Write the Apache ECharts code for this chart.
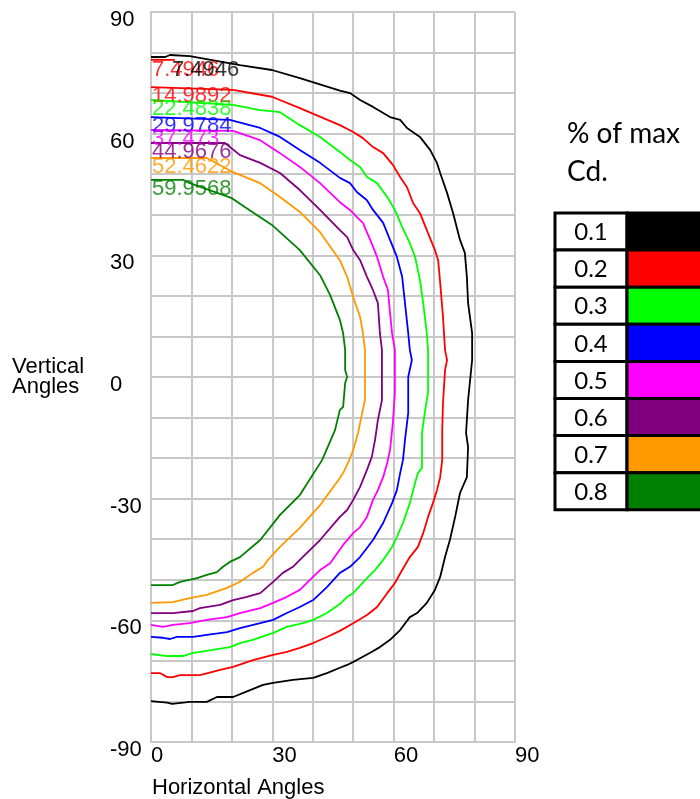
<!DOCTYPE html>
<html><head><meta charset="utf-8">
<script src="https://cdn.jsdelivr.net/npm/echarts@6/dist/echarts.min.js"></script>
<style>html,body{margin:0;padding:0;background:#fff}#c{width:700px;height:799px}</style>
</head><body><div id="c"></div>
<script>
// ---- data ----
const levels = ['0.1','0.2','0.3','0.4','0.5','0.6','0.7','0.8'];
const levelColors = ['#000000','#ff0000','#00ff00','#0000ff','#ff00ff','#800080','#ff9900','#008000'];
const contourLabels = ['7.4946','14.9892','22.4838','29.9784','37.473','44.9676','52.4622','59.9568'];
const xTickLabels = [0, 30, 60, 90];
const yTickLabels = [-90, -60, -30, 0, 30, 60, 90];

const c01 = [[0,78.9],[3.5,78.9],[4.7,79.4],[9.6,79.1],[22,76.9],[29.9,75.7],[36.8,73.7],[46.7,70.6],[49.2,70.0],[51.7,68.3],[54.9,66.6],[59.1,64.1],[61.6,63.4],[63.3,61.4],[66.5,59.2],[69,56.0],[70.7,52.8],[71.5,50.3],[73.2,45.4],[74.7,40.4],[76.4,33.8],[77.6,30.6],[78.1,24.7],[78.4,18.2],[79.4,10.8],[79.4,4.2],[78.4,-5.7],[77.9,-13.8],[78.4,-17.3],[78.1,-24.7],[76.4,-28.6],[75.2,-34.5],[73.9,-40.2],[72.7,-44.4],[71.5,-49.3],[70.2,-52.5],[68.2,-55.7],[65.8,-58.2],[64.0,-59.2],[61.6,-62.4],[59.1,-64.8],[56.6,-66.6],[54.2,-68.0],[50.9,-69.8],[48.5,-71.0],[46.7,-71.7],[43.5,-73.0],[40.1,-74.2],[35.1,-74.7],[30.2,-75.4],[27.7,-75.9],[24.5,-77.2],[20.3,-78.9],[16.3,-78.9],[13.8,-80.1],[9.6,-80.1],[5.2,-80.6],[4.0,-80.3],[0,-79.9]];
const c02 = [[0,71.5],[20.3,70.8],[29.9,69.1],[36.8,66.3],[46.7,62.1],[50,60.4],[52.4,58.9],[54.9,56.7],[57.4,55.2],[59.8,52.3],[61.6,49.3],[63.3,46.8],[64.8,42.9],[66.5,40.4],[68.2,36.2],[70.2,31.3],[71,28.8],[71.5,23.2],[72.2,14.8],[72.7,6.7],[73.2,4.2],[72.7,1.7],[72.2,-6.4],[72,-13.1],[72,-20.5],[71.5,-24.7],[70.7,-27.9],[69.7,-31.1],[68.5,-34.5],[67.3,-38.5],[66,-41.9],[64,-44.4],[62.1,-47.6],[60.3,-50.8],[58.4,-53.3],[55.9,-56.7],[53.4,-58.7],[50,-60.7],[46.7,-62.6],[43.5,-64.1],[40.1,-65.6],[36.8,-66.8],[33.6,-67.8],[30.2,-68.5],[25.2,-69.8],[20.3,-71.5],[17.1,-72.2],[12.1,-73.5],[7.2,-73.5],[5.4,-74.0],[4,-74.0],[2.2,-73.0],[0,-73.0]];
const c03 = [[0,68.3],[20.3,67.1],[27,65.8],[31.9,65.3],[36.8,62.1],[41.8,59.2],[46.7,55.5],[49.2,53.5],[51.7,51.8],[53.4,49.3],[55.9,47.8],[58.4,44.4],[60.3,41.2],[62.1,37.0],[64,33.0],[65.3,29.6],[66.5,23.9],[67.3,18.2],[68.2,10.8],[68.5,6.7],[68.5,-3.9],[67.8,-8.1],[67,-13.8],[67,-22.4],[66,-23.7],[65.3,-26.1],[64,-31.1],[62.3,-36.0],[60.8,-39.4],[59.6,-41.9],[57.4,-45.1],[55.4,-47.6],[53.4,-49.6],[50,-53.3],[48.5,-54.2],[46.7,-56.0],[43.5,-58.2],[40.1,-59.9],[37.6,-60.7],[33.6,-61.6],[30.2,-63.1],[25.2,-64.8],[22,-65.6],[19.5,-66.6],[15.3,-67.3],[10.4,-68.0],[7.9,-68.8],[4,-68.8],[0,-68.3]];
const c04 = [[0,64.1],[19.5,63.4],[27,61.4],[31.9,59.2],[36.8,56.0],[41.8,52.8],[46.7,49.1],[49.2,47.8],[50.9,45.6],[53.4,43.6],[54.9,41.2],[57.4,38.0],[59.1,33.8],[60.8,29.6],[62.1,24.7],[62.8,18.2],[63.6,10.8],[64,6.7],[64.5,4.2],[63.6,0],[63.6,-8.9],[62.8,-15.5],[62.3,-20.5],[61.6,-23.7],[60.8,-27.9],[59.6,-31.1],[57.4,-36.0],[54.9,-40.2],[51.7,-44.4],[49.2,-46.8],[46.7,-48.3],[43.5,-51.8],[40.1,-55.0],[36.8,-56.7],[33.6,-58.2],[30.2,-59.9],[27,-60.7],[22,-61.9],[18.8,-62.9],[13.8,-63.6],[10.4,-64.1],[6.4,-64.1],[4.7,-64.6],[3,-64.3],[0,-64.1]];
const c05 = [[0,60.9],[20.3,60.7],[27,58.4],[31.9,55.2],[36.8,51.8],[41.8,47.8],[46.7,43.1],[49.2,41.2],[50.9,39.4],[52.4,38.0],[54.2,33.8],[55.9,29.6],[57.4,24.7],[58.6,21.4],[59.1,15.8],[59.6,10.8],[60.3,6.7],[60.3,-3.9],[59.8,-11.3],[59.1,-18.0],[58.4,-21.2],[57.4,-24.7],[56.1,-27.9],[54.9,-30.3],[53.4,-34.5],[51.7,-37.0],[50,-38.5],[47.5,-41.4],[44.3,-45.9],[41.8,-47.6],[39.3,-50.0],[36.8,-52.5],[33.6,-54.2],[30.2,-55.7],[27,-57.0],[22,-58.2],[18.8,-59.2],[13.8,-59.9],[9.6,-60.7],[5.4,-61.1],[3,-61.6],[0,-61.1]];
const c06 = [[0,57.7],[18.3,57.7],[22,54.7],[27,52.8],[31.9,50.3],[36.8,46.1],[41.8,41.2],[46.7,36.2],[48.5,34.5],[50,31.3],[51.7,28.8],[53.4,24.7],[54.9,21.4],[56.1,18.2],[56.6,10.8],[57.1,6.7],[57.1,-5.7],[56.1,-10.6],[55.4,-15.5],[54.6,-19.7],[53.4,-22.9],[51.7,-27.1],[50,-30.3],[48.5,-32.8],[46.7,-34.5],[41.8,-40.2],[36.8,-45.1],[35.1,-46.8],[32.6,-48.3],[30.2,-50.5],[27,-53.3],[23.7,-54.2],[20.3,-55.0],[17.1,-56.2],[12.1,-57.0],[10.4,-57.7],[5.4,-58.2],[0,-58.2]];
const c07 = [[0,54.0],[13.8,54.0],[20.3,50.5],[27,47.8],[31.9,44.4],[36.8,40.7],[41.8,35.7],[46.7,28.8],[48.5,24.7],[50,19.7],[51.7,14.8],[52.4,10.8],[52.9,6.7],[52.9,-5.7],[52.2,-8.9],[51.2,-13.8],[50,-18.0],[48.7,-21.2],[47.5,-23.7],[46.7,-24.9],[41.8,-31.6],[36.8,-37.2],[31.9,-41.9],[28.9,-45.1],[27.7,-46.8],[25.2,-48.3],[22,-50.5],[18.8,-52.0],[13.8,-53.7],[9.6,-54.5],[5.4,-55.5],[0,-55.7]];
const c08 = [[0,48.6],[7.9,48.6],[9.6,47.8],[20,44.1],[23.2,41.9],[29.9,37.5],[36.8,31.3],[41.8,25.1],[44.3,20.2],[46.7,14.1],[47.5,10.8],[48,6.7],[48,1.7],[48.5,0],[48,-1.5],[47.5,-7.4],[46.7,-8.1],[45.5,-13.1],[42.3,-20.5],[36.8,-29.1],[31.9,-34.0],[27,-40.2],[22,-44.4],[19.5,-45.6],[17.8,-46.8],[16.3,-48.1],[13.8,-48.8],[11.4,-49.6],[7.2,-50.5],[5.4,-51.3],[0,-51.3]];
const contours = [c01, c02, c03, c04, c05, c06, c07, c08];

// stray red tick and label at the top of the plot
const strayRed = [[0,78.2],[5.9,78.2]];
const strayRedLabel = '7.4946';

// ---- chart ----
const FONT = 'Liberation Sans, Arial, sans-serif';
const chart = echarts.init(document.getElementById('c'), null, {renderer: 'canvas'});

const lineSeries = contours.map((d, i) => ({
  type: 'line', name: levels[i], data: d, showSymbol: false, symbol: 'none',
  lineStyle: {color: levelColors[i], width: 1.8}, itemStyle: {color: levelColors[i]},
  animation: false, z: 3
}));

const labelStyle = {show: true, position: [0, 0], align: 'left', verticalAlign: 'top',
  fontFamily: FONT, fontSize: 22, lineHeight: 16};

const labelSeries = {
  type: 'scatter', symbolSize: 0, silent: true, animation: false, z: 5,
  data: [
    {value: strayRed[0], label: Object.assign({}, labelStyle, {color: levelColors[1], formatter: strayRedLabel, offset: [1, 2]})}
  ].concat(contours.map((d, i) => ({
    value: d[0],
    label: Object.assign({}, labelStyle, {color: levelColors[i], formatter: contourLabels[i], offset: i === 0 ? [21, 5] : [1, 1]})
  })))
};

const strayLine = {type: 'line', data: strayRed, showSymbol: false, symbol: 'none',
  lineStyle: {color: levelColors[1], width: 1.8}, animation: false, z: 3};

// legend table
const rowTop = 213, rowH = 37.1, cellL = 555, splitX = 627, cellR = 712;
const graphics = [
  {type: 'text', left: 567, top: 120, style: {text: '% of max', font: '28px Lato, Liberation Sans, sans-serif', fill: '#000'}},
  {type: 'text', left: 567, top: 158, style: {text: 'Cd.', font: '28px Lato, Liberation Sans, sans-serif', fill: '#000'}}
];
levels.forEach((lv, i) => {
  const y = rowTop + i * rowH;
  graphics.push({type: 'rect', shape: {x: cellL, y: y, width: splitX - cellL, height: rowH},
    style: {fill: '#fff', stroke: '#000', lineWidth: 3}});
  graphics.push({type: 'rect', shape: {x: splitX, y: y, width: cellR - splitX, height: rowH},
    style: {fill: levelColors[i], stroke: '#000', lineWidth: 3}});
  graphics.push({type: 'text', x: (cellL + splitX) / 2, y: y + rowH / 2 + 1,
    style: {text: lv, font: '24px Lato, Liberation Sans, sans-serif', fill: '#000', align: 'center', verticalAlign: 'middle'}});
});

const gridGray = '#c8c8c8';
chart.setOption({
  animation: false,
  backgroundColor: '#fff',
  grid: {left: 151, top: 12, width: 364, height: 730, containLabel: false},
  xAxis: {
    type: 'value', min: 0, max: 90, interval: 10,
    name: 'Horizontal Angles', nameLocation: 'start', nameGap: -1, nameMoveOverlap: false,
    nameTextStyle: {fontFamily: FONT, fontSize: 22, color: '#000', align: 'left', verticalAlign: 'top', lineHeight: 22, padding: [35, 0, 0, 0]},
    axisLine: {show: true, onZero: false, lineStyle: {color: gridGray, width: 2}},
    axisTick: {show: false},
    splitLine: {show: true, lineStyle: {color: gridGray, width: 2}},
    axisLabel: {
      show: true, margin: 6, align: 'left', verticalAlign: 'top', lineHeight: 16,
      fontFamily: FONT, fontSize: 22, color: '#000', hideOverlap: false,
      showMinLabel: true, showMaxLabel: true,
      formatter: v => xTickLabels.indexOf(v) >= 0 ? String(v) : ''
    }
  },
  yAxis: {
    type: 'value', min: -90, max: 90, interval: 10,
    name: 'Vertical\nAngles', nameLocation: 'middle', nameGap: 139, nameRotate: 0, nameMoveOverlap: false,
    nameTextStyle: {fontFamily: FONT, fontSize: 22, color: '#000', align: 'left', verticalAlign: 'middle', lineHeight: 20},
    axisLine: {show: true, onZero: false, lineStyle: {color: gridGray, width: 2}},
    axisTick: {show: false},
    splitLine: {show: true, lineStyle: {color: gridGray, width: 2}},
    axisLabel: {
      show: true, margin: 41, align: 'left', verticalAlign: 'top', lineHeight: 16,
      fontFamily: FONT, fontSize: 22, color: '#000', hideOverlap: false,
      showMinLabel: true, showMaxLabel: true,
      formatter: v => yTickLabels.indexOf(v) >= 0 ? String(v) : ''
    }
  },
  series: [strayLine].concat(lineSeries, [labelSeries]),
  graphic: graphics
});
</script></body></html>
